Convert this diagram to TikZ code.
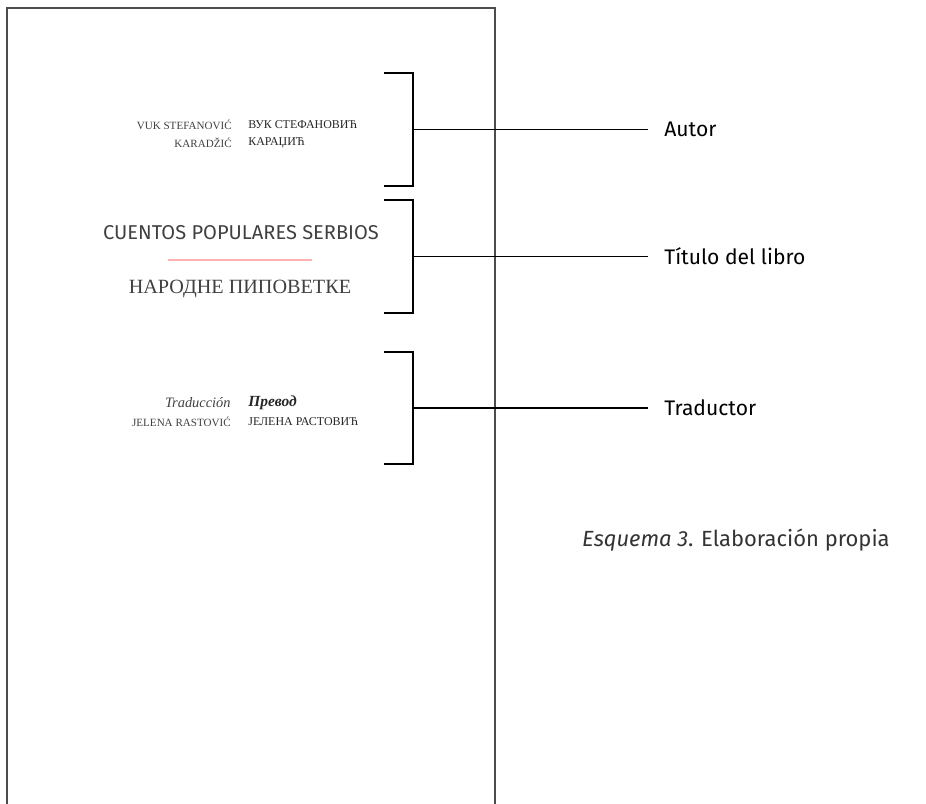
\documentclass[tikz,border=0pt]{standalone}
\usepackage{fontspec}
\setmainfont{Fira Sans}
\newfontfamily\cyrserif{Liberation Serif}
\usetikzlibrary{positioning}

\begin{document}
\begin{tikzpicture}[x=0.02cm, y=-0.02cm,
    pageedge/.style={draw=black!70, line width=0.8pt},
    bracket/.style={line width=0.6pt},
    leader/.style={line width=1pt, shorten >=9pt},
    partlabel/.style={anchor=west, inner sep=0pt, font=\fontsize{12}{14}\selectfont},
    smallname/.style={inner sep=0pt, text=black!75, font=\cyrserif\fontsize{6.3}{7}\selectfont},
    cyrname/.style={smallname, text=black!85, font=\cyrserif\fontsize{6.8}{8}\selectfont},
    booktitle/.style={inner sep=0pt, text=black!75}]
  \useasboundingbox (0,0) rectangle (926,804);
  % page of the book
  \draw[pageedge] (7,804) -- (7,8) -- (495,8) -- (495,804);
  % author
  \node[smallname, anchor=east] (vukL) at (232,125) {VUK STEFANOVIĆ};
  \node[smallname, anchor=east] (karL) at (232,143) {KARADŽIĆ};
  \node[cyrname, anchor=west] (vukC) at (248,125) {ВУК СТЕФАНОВИЋ};
  \node[cyrname, anchor=west] (karC) at (248,143) {КАРАЏИЋ};
  % title
  \node[booktitle, font=\fontsize{11.4}{13}\selectfont] (cuentos) at (241,233) {CUENTOS POPULARES SERBIOS};
  \coordinate (rule-l) at (168,260);
  \coordinate (rule-r) at (312,260);
  \draw[red!30!white, line width=1.2pt] (rule-l) -- (rule-r);
  \node[booktitle, font=\cyrserif\fontsize{11.5}{13}\selectfont] (narodne) at (240,289) {НАРОДНЕ ПИПОВЕТКЕ};
  % translator
  \node[smallname, anchor=east, font=\cyrserif\itshape\fontsize{8.2}{9}\selectfont] (tradL) at (231,403) {Traducción};
  \node[cyrname, anchor=west, font=\cyrserif\bfseries\itshape\fontsize{8.8}{10}\selectfont] (tradC) at (248,403) {Превод};
  \node[smallname, anchor=east] (jelL) at (231,422) {JELENA RASTOVIĆ};
  \node[cyrname, anchor=west] (jelC) at (248,422) {ЈЕЛЕНА РАСТОВИЋ};
  % brackets and labels
  \foreach \nm/\top/\bot/\txt in {autor/73/186/Autor, titulo/200/313/Título del libro, trad/352/464/Traductor}{
    \draw[bracket] (384,\top) -- (413,\top) -- (413,\bot) -- (384,\bot);
    \coordinate (\nm-m) at (413,{(\top+\bot)/2});
    \node[partlabel] (\nm) at (664,{(\top+\bot)/2}) {\txt};
    \draw[leader] (\nm-m) -- (\nm.west);
  }
  \node[anchor=east, inner sep=0pt, text=black!80, font=\fontsize{12.5}{14}\selectfont] (caption) at (890,540) {\textit{Esquema 3}. Elaboración propia};
\end{tikzpicture}
\end{document}
